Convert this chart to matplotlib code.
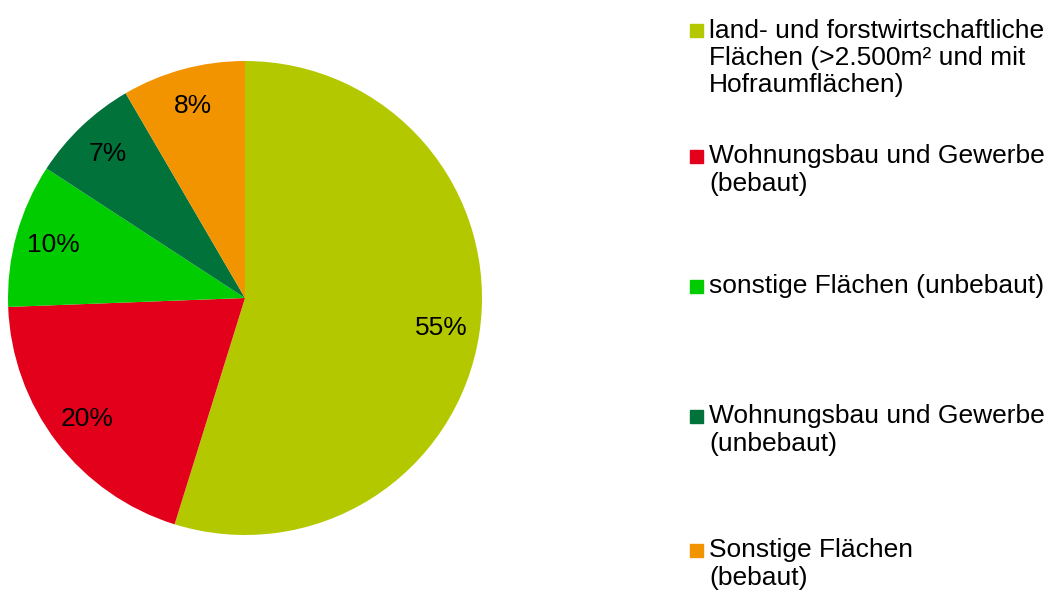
import matplotlib.pyplot as plt
from matplotlib.patches import Rectangle

plt.rcParams['font.family'] = ['Liberation Sans', 'DejaVu Sans']

# data
labels = [
    "land- und forstwirtschaftliche\nFlächen (>2.500m² und mit\nHofraumflächen)",
    "Wohnungsbau und Gewerbe\n(bebaut)",
    "sonstige Flächen (unbebaut)",
    "Wohnungsbau und Gewerbe\n(unbebaut)",
    "Sonstige Flächen\n(bebaut)",
]
shares = [54.8, 19.6, 9.8, 7.4, 8.4]
colors = ["#B4C800", "#E2001A", "#00CC00", "#00723A", "#F29400"]

W, H = 1055, 593
fig = plt.figure(figsize=(W / 100, H / 100), dpi=100)

# pie: center (245,298), radius 237 px
cx, cy, r = 245, 298, 237
ax = fig.add_axes([(cx - r) / W, (H - cy - r) / H, 2 * r / W, 2 * r / H])
ax.pie(shares, colors=colors, startangle=90, counterclock=False, radius=1,
       autopct=lambda p: f"{p:.0f}%", pctdistance=0.84,
       textprops=dict(fontsize=19, color="black"))
ax.set_xlim(-1, 1)
ax.set_ylim(-1, 1)
ax.set_aspect("equal")
ax.axis("off")

# legend, drawn by hand to keep the uneven spacing
baselines = [37, 163, 293, 423, 557]   # first-line baselines, px from top
step = 27.7                            # line step, px
sq = 13
for lab, col, y in zip(labels, colors, baselines):
    fig.patches.append(Rectangle((690 / W, (H - y) / H), sq / W, sq / H,
                                 transform=fig.transFigure, color=col))
    # matplotlib puts the baseline of the last line at y
    last = y + (lab.count("\n")) * step
    fig.text(709 / W, (H - last) / H, lab, fontsize=19, va="baseline", ha="left",
             linespacing=1.17)

fig.savefig("out.png", dpi=100)
